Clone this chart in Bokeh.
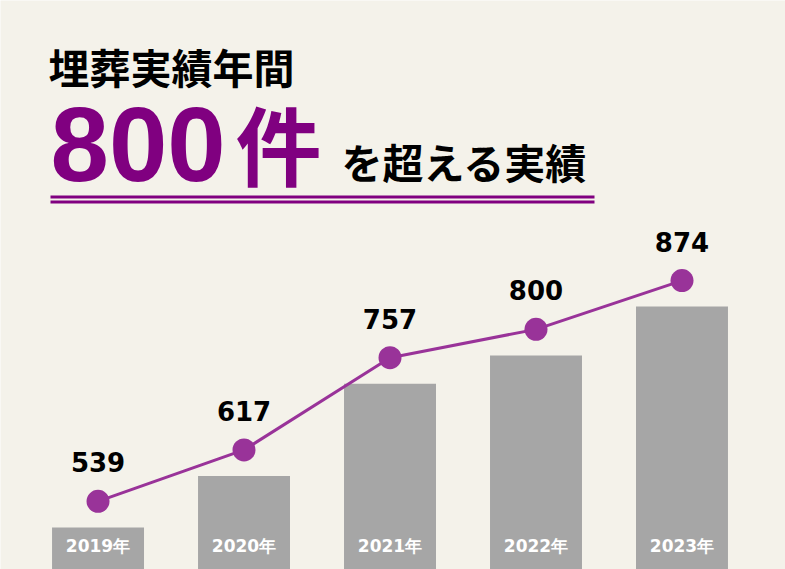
from bokeh.plotting import figure
from bokeh.models import ColumnDataSource, Range1d, BoxAnnotation
from bokeh.core.properties import value
from bokeh.embed import file_html
from bokeh.resources import INLINE

# ---- data ----
years = ["2019年", "2020年", "2021年", "2022年", "2023年"]
counts = [539, 617, 757, 800, 874]

title_line1 = "埋葬実績年間"
title_big_num = "800"
title_big_unit = "件"
title_line2 = "を超える実績"

# ---- style ----
BG = "#f4f2ea"
PURPLE_DARK = "#800080"
PURPLE = "#993399"
BAR = "#a6a6a6"

W, H = 785, 569
X0, X1 = -0.668, 4.709
Y0, Y1 = 435.6, 1299.0
BAR_SHIFT = 39.5

xs = list(range(len(years)))
src = ColumnDataSource(dict(
    x=xs, year=years, count=counts,
    label=[str(c) for c in counts],
    base=[Y0] * len(years),
))

p = figure(width=W, height=H, output_backend="svg", toolbar_location=None,
           x_range=Range1d(X0, X1), y_range=Range1d(Y0, Y1),
           min_border=0, outline_line_color=None,
           background_fill_color=BG, border_fill_color=BG)
p.axis.visible = False
p.grid.visible = False
p.extra_y_ranges = {"bars": Range1d(Y0 + BAR_SHIFT, Y1 + BAR_SHIFT)}

# bars
p.vbar(x="x", top="count", bottom=0, width=0.63, source=src,
       fill_color=BAR, line_color=None, y_range_name="bars")

# year labels inside bars
p.text(x="x", y="base", text="year", source=src, y_offset=-24,
       text_align="center", text_baseline="middle",
       text_font=value("DejaVu Sans"), text_font_style="bold",
       text_font_size="17px", text_color="white")

# line + points
p.line(x="x", y="count", source=src, line_color=PURPLE, line_width=3)
p.scatter(x="x", y="count", source=src, size=23, fill_color=PURPLE, line_color=None)

# value labels
p.text(x="x", y="count", text="label", source=src, y_offset=-39,
       text_align="center", text_baseline="middle",
       text_font=value("DejaVu Sans"), text_font_style="bold",
       text_font_size="26px", text_color="#000000")

# ---- title block: page pixels -> data coords ----
def dx(px):
    return X0 + px / W * (X1 - X0)

def dy(py):
    return Y1 - py / H * (Y1 - Y0)

def title_text(txt, px, py, font, size, color):
    p.text(x=[dx(px)], y=[dy(py)], text=[txt], text_align="left", text_baseline="middle",
           text_font=value(font), text_font_style="bold",
           text_font_size=size, text_color=color)

title_text(title_line1, 48, 65, "Noto Sans CJK JP", "41px", "#000000")
title_text(title_big_num, 50, 144, "Liberation Sans", "105px", PURPLE_DARK)
title_text(title_big_unit, 235, 142, "Noto Sans CJK JP", "86px", PURPLE_DARK)
title_text(title_line2, 341, 160, "Noto Sans CJK JP", "41px", "#000000")

# double underline
for top_px in (195, 200):
    p.add_layout(BoxAnnotation(left=dx(50), right=dx(594), top=dy(top_px), bottom=dy(top_px + 3),
                               fill_color=PURPLE_DARK, fill_alpha=1.0, line_color=None))

open("out.html", "w").write(file_html(p, INLINE))
